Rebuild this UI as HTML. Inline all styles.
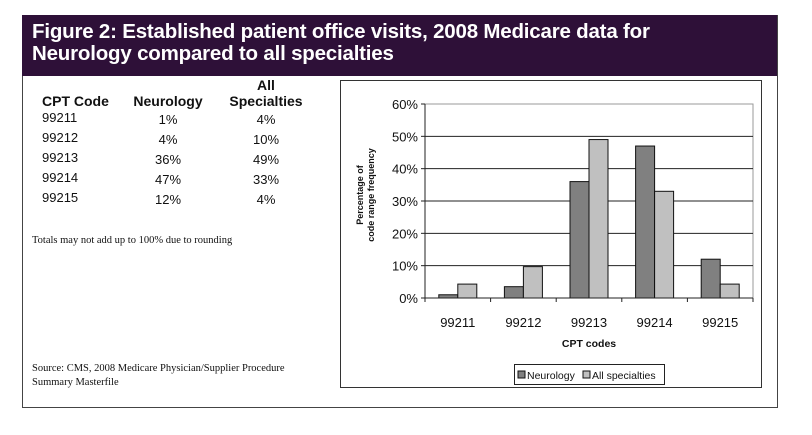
<!DOCTYPE html>
<html><head><meta charset="utf-8"><style>
body{margin:0;width:812px;height:435px;background:#fff;position:relative;overflow:hidden;font-family:"Liberation Sans",Arial,sans-serif}
.a{position:absolute}
#hdr{left:22px;top:15px;width:755px;height:61px;background:#2e1038;color:#fff;font-weight:bold;font-size:20.5px;line-height:22px;box-sizing:border-box;padding:6px 0 0 10px;letter-spacing:-0.2px}
.t{font-size:13px;color:#111}
.h{font-size:14px;font-weight:bold}
.c{text-align:center;width:90px}
.serif{font-family:"Liberation Serif",serif;font-size:10.5px;color:#111}
</style></head><body>
<div class="a" id="hdr">Figure 2: Established patient office visits, 2008 Medicare data for<br>Neurology compared to all specialties</div>
<div class="a" style="left:22px;top:76px;width:1px;height:331px;background:#444"></div>
<div class="a" style="left:777px;top:15px;width:1px;height:393px;background:#444"></div>
<div class="a" style="left:22px;top:407px;width:756px;height:1px;background:#444"></div>

<div>
<div class="a t h c" style="left:221px;top:77px">All</div>
<div class="a t h" style="left:42px;top:93px">CPT Code</div>
<div class="a t h c" style="left:123px;top:93px">Neurology</div>
<div class="a t h c" style="left:221px;top:93px">Specialties</div>
<div id="rows"></div>
</div>
<div class="a serif" style="left:32px;top:235px">Totals may not add up to 100% due to rounding</div>
<div class="a serif" style="left:32px;top:362px;line-height:14px">Source: CMS, 2008 Medicare Physician/Supplier Procedure<br>Summary Masterfile</div>

<div class="a" style="left:340px;top:80px;width:420px;height:306px;border:1px solid #333"></div>
<svg class="a" style="left:0;top:0" width="812" height="435" id="chart"></svg>

<script>
const categories=["99211","99212","99213","99214","99215"];
const neurology=[1,3.5,36,47,12];
const allSpecialties=[4.3,9.7,49,33,4.3];
const neuroLabels=["1%","4%","36%","47%","12%"];
const allLabels=["4%","10%","49%","33%","4%"];
const yTicks=[0,10,20,30,40,50,60];

const rows=document.getElementById('rows');
categories.forEach((c,i)=>{
  const y=110+i*20;
  [[c,42,false],[neuroLabels[i],123,true],[allLabels[i],221,true]].forEach((d,j)=>{
    const el=document.createElement('div');
    el.className='a t'+(d[2]?' c':'');
    el.style.left=d[1]+'px';el.style.top=(y+(j?2:0))+'px';
    el.textContent=d[0];
    
    
    rows.appendChild(el);
  });
});

const svg=document.getElementById('chart');
const NS='http://www.w3.org/2000/svg';
const x0=425,x1=753,yb=298,yt=104,ymax=60;
const Y=v=>yb-(v/ymax)*(yb-yt);
const cw=(x1-x0)/categories.length;
const X=i=>x0+cw*i;
function mk(t,a,name){const e=document.createElementNS(NS,t);for(const k in a)e.setAttribute(k,a[k]);
  
  
  svg.appendChild(e);return e;}
mk('rect',{x:x0,y:yt,width:x1-x0,height:yb-yt,fill:'none',stroke:'#999','stroke-width':1},'plot-area');
yTicks.forEach(v=>{
  if(v>0&&v<60)mk('line',{x1:x0,x2:x1,y1:Y(v),y2:Y(v),stroke:'#222','stroke-width':1},'gridline');
  mk('line',{x1:x0-4,x2:x0,y1:Y(v),y2:Y(v),stroke:'#222'},'y-tick');
  const t=mk('text',{x:x0-7,y:Y(v)+5,'text-anchor':'end','font-size':13,fill:'#111','font-family':'Liberation Sans,sans-serif'},'y-tick-label');t.textContent=v+'%';
});
const bw=19;
categories.forEach((c,i)=>{
  const cx=X(i)+cw/2;
  mk('rect',{x:cx-bw,y:Y(neurology[i]),width:bw,height:yb-Y(neurology[i]),fill:'#808080',stroke:'#111','stroke-width':1},'bar-neurology-'+c);
  mk('rect',{x:cx,y:Y(allSpecialties[i]),width:bw,height:yb-Y(allSpecialties[i]),fill:'#c0c0c0',stroke:'#111','stroke-width':1},'bar-all-'+c);
  const t=mk('text',{x:cx,y:327,'text-anchor':'middle','font-size':13,fill:'#111','font-family':'Liberation Sans,sans-serif'},'x-tick-label');t.textContent=c;
});
for(let i=0;i<=categories.length;i++)mk('line',{x1:X(i),x2:X(i),y1:yb,y2:yb+4,stroke:'#222'},'x-tick');
mk('line',{x1:x0,x2:x0,y1:yt,y2:yb,stroke:'#222'},'y-axis');
mk('line',{x1:x0,x2:x1,y1:yb,y2:yb,stroke:'#222'},'x-axis');
let t=mk('text',{x:589,y:347,'text-anchor':'middle','font-size':10.5,'font-weight':'bold',fill:'#111','font-family':'Liberation Sans,sans-serif'},'x-axis-title');t.textContent='CPT codes';
t=mk('text',{transform:'translate(363,195) rotate(-90)','text-anchor':'middle','font-size':9,'font-weight':'bold',fill:'#111','font-family':'Liberation Sans,sans-serif'},'y-axis-title');t.textContent='Percentage of';
t=mk('text',{transform:'translate(374,195) rotate(-90)','text-anchor':'middle','font-size':9,'font-weight':'bold',fill:'#111','font-family':'Liberation Sans,sans-serif'},'y-axis-title-2');t.textContent='code range frequency';
mk('rect',{x:514.5,y:364.5,width:150,height:20,fill:'#fff',stroke:'#222'},'legend');
mk('rect',{x:518,y:371,width:7,height:7,fill:'#808080',stroke:'#111'},'legend-swatch-neurology');
t=mk('text',{x:527,y:379,'font-size':10.5,fill:'#111','font-family':'Liberation Sans,sans-serif'},'legend-entry-neurology');t.textContent='Neurology';
mk('rect',{x:583,y:371,width:7,height:7,fill:'#c0c0c0',stroke:'#111'},'legend-swatch-all');
t=mk('text',{x:592,y:379,'font-size':10.5,fill:'#111','font-family':'Liberation Sans,sans-serif'},'legend-entry-all');t.textContent='All specialties';
</script>
</body></html>
